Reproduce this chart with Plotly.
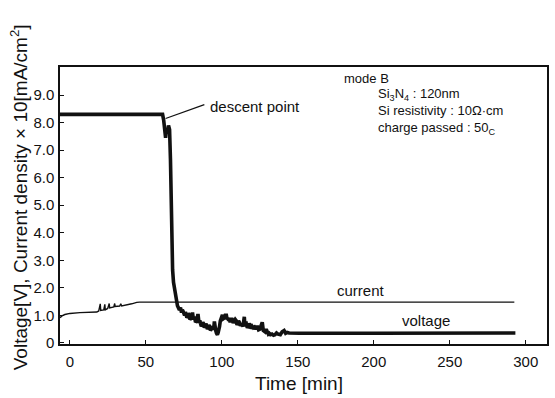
import plotly.graph_objects as go

# ---- data ----
volt_t = [-6.5, 61.0, 61.7, 62.4, 63.0, 63.6, 64.3, 64.9, 65.6, 66.2, 66.6, 66.9, 67.6, 68.2,
          69.5, 70.8, 72.1, 72.8, 73.5, 74.0, 74.5, 75.0, 75.5, 76.0, 76.5, 77.0, 77.5, 78.0,
          78.5, 79.0, 79.5, 80.1, 80.7, 81.3, 81.8, 82.2, 82.7, 83.2, 83.8, 84.3, 85.0, 85.5,
          86.0, 86.5, 87.0, 87.5, 88.0, 88.5, 89.0, 89.5, 90.0, 90.5, 91.0, 91.5, 92.0, 92.5,
          93.0, 93.5, 94.0, 94.6, 95.1, 95.6, 96.0, 96.5, 97.1, 97.6, 98.0, 98.5, 99.0, 99.7,
          100.4, 101.0, 101.5, 102.2, 103.0, 103.5, 104.0, 104.5, 104.9, 105.5, 106.0, 106.5,
          106.9, 107.5, 108.0, 108.8, 109.5, 110.0, 110.5, 111.0, 111.5, 112.2, 113.0, 113.9,
          114.8, 115.2, 115.5, 116.1, 116.8, 117.5, 118.0, 118.5, 119.2, 120.0, 120.7, 121.5,
          122.4, 123.3, 124.2, 125.0, 125.8, 126.6, 127.3, 128.5, 129.2, 130.0, 130.6, 131.2,
          132.0, 133.0, 134.0, 135.0, 136.0, 137.0, 138.5, 139.7, 141.0, 142.0, 143.0, 144.3,
          147.0, 150.9, 200.0, 250.0, 293.2]
volt_v = [8.3, 8.3, 8.1, 7.7, 7.45, 7.8, 7.6, 7.9, 7.75, 6.65, 5.2, 3.4, 2.65, 2.2,
          1.65, 1.35, 1.2, 1.28, 1.1, 1.2, 1.15, 1.05, 1.0, 1.12, 1.05, 0.92, 0.95, 1.08,
          1.0, 0.85, 0.88, 0.98, 1.1, 0.85, 0.95, 0.9, 0.75, 0.78, 0.9, 1.05, 0.72, 0.82,
          0.7, 0.6, 0.65, 0.75, 0.7, 0.55, 0.6, 0.7, 0.62, 0.5, 0.55, 0.65, 0.6, 0.45,
          0.5, 0.6, 0.55, 0.48, 0.78, 0.5, 0.45, 0.35, 0.3, 0.38, 0.45, 0.6, 0.8, 0.95,
          1.02, 0.88, 0.9, 1.0, 1.0, 0.85, 0.92, 0.8, 0.88, 0.75, 0.82, 0.9, 0.85, 0.72,
          0.78, 0.85, 0.8, 0.65, 0.72, 0.8, 0.75, 0.62, 0.7, 0.6, 0.95, 0.6, 0.68, 0.7,
          0.55, 0.62, 0.7, 0.65, 0.52, 0.6, 0.55, 0.58, 0.5, 0.62, 0.48, 0.5, 0.6, 0.75,
          0.45, 0.4, 0.5, 0.38, 0.32, 0.35, 0.3, 0.32, 0.28, 0.3, 0.36, 0.32, 0.3, 0.4,
          0.45, 0.35, 0.38, 0.36, 0.35, 0.35, 0.35, 0.36, 0.36]

curr_t = [-6.5, -5.2, -3.3, 0.0, 6.6, 13.1, 17.7, 19.0, 20.0, 20.3, 22.3, 23.0, 23.3, 24.9,
          25.9, 26.2, 28.9, 29.5, 29.8, 32.8, 33.5, 34.1, 38.0, 40.7, 44.0, 45.9, 292.5]
curr_v = [0.91, 0.98, 1.03, 1.07, 1.1, 1.11, 1.12, 1.16, 1.42, 1.18, 1.2, 1.4, 1.2, 1.25,
          1.43, 1.27, 1.31, 1.43, 1.32, 1.34, 1.42, 1.34, 1.38, 1.42, 1.47, 1.48, 1.48]

x_ticks = [0, 50, 100, 150, 200, 250, 300]
y_ticks = [0, 1, 2, 3, 4, 5, 6, 7, 8, 9]
y_ticktext = ["0", "1.0", "2.0", "3.0", "4.0", "5.0", "6.0", "7.0", "8.0", "9.0"]

FONT = "Liberation Sans, Arial, sans-serif"
INK = "#111111"

fig = go.Figure()
fig.add_trace(go.Scatter(x=curr_t, y=curr_v, mode="lines",
                         line=dict(color=INK, width=1.4), hoverinfo="skip"))
fig.add_trace(go.Scatter(x=volt_t, y=volt_v, mode="lines",
                         line=dict(color=INK, width=3.6), hoverinfo="skip"))

axis_common = dict(showgrid=False, zeroline=False, showline=True, linecolor=INK,
                   linewidth=1.5, mirror=True, ticks="inside", ticklen=4,
                   tickcolor=INK, tickwidth=1,
                   tickfont=dict(family=FONT, size=15, color=INK))

fig.update_xaxes(range=[-6.5, 314], tickvals=x_ticks, ticklabelstandoff=3, **axis_common)
fig.update_yaxes(range=[-0.04, 10.02], tickvals=y_ticks, ticktext=y_ticktext,
                 ticklabelstandoff=1, **axis_common)

ann_font = dict(family=FONT, size=12, color=INK)
annotations = [
    dict(x=91.2, y=8.6, xref="x", yref="y", text="descent point", showarrow=False,
         xanchor="left", yanchor="middle", font=dict(family=FONT, size=15, color=INK)),
    dict(x=179, y=9.62, xref="x", yref="y", text="mode B", showarrow=False,
         xanchor="left", yanchor="middle", font=dict(family=FONT, size=13, color=INK)),
    dict(x=201.4, y=8.4, xref="x", yref="y",
         text="Si<sub>3</sub>N<sub>4</sub> : 120nm<br>Si resistivity : 10Ω·cm<br>charge passed : 50<sub>C</sub>",
         showarrow=False, xanchor="left", yanchor="middle", align="left",
         font=dict(family=FONT, size=13, color=INK)),
    dict(x=191.5, y=1.89, xref="x", yref="y", text="current", showarrow=False,
         xanchor="center", yanchor="middle", font=dict(family=FONT, size=15, color=INK)),
    dict(x=234.2, y=0.8, xref="x", yref="y", text="voltage", showarrow=False,
         xanchor="center", yanchor="middle", font=dict(family=FONT, size=15, color=INK)),
    dict(x=0.491, y=-0.141, xref="paper", yref="paper", text="Time [min]", showarrow=False,
         xanchor="center", yanchor="middle", font=dict(family=FONT, size=19, color=INK)),
    dict(x=-0.084, y=0.53, xref="paper", yref="paper",
         text="Voltage[V], Current density × 10[mA/cm<sup>2</sup>]", showarrow=False,
         textangle=-90, xanchor="center", yanchor="middle",
         font=dict(family=FONT, size=19, color=INK)),
]

fig.update_layout(
    width=555, height=398,
    margin=dict(l=60, r=6, t=67, b=54),
    paper_bgcolor="white", plot_bgcolor="white",
    showlegend=False,
    annotations=annotations,
    shapes=[dict(type="line", xref="x", yref="y", x0=63.0, y0=8.15, x1=88.5, y1=8.65,
                 line=dict(color=INK, width=1.3))],
)

fig.write_html("out.html")
